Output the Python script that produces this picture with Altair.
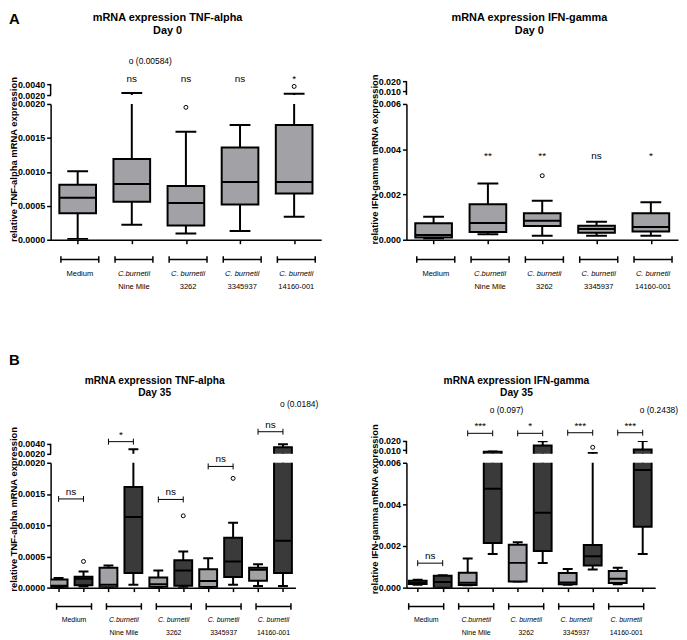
import altair as alt
import pandas as pd

FONT = "Liberation Sans"
LIGHT = "#a2a2a6"
DARK = "#3a3a3a"

# ---------------- data ----------------
LINE1 = ["Medium", "C.burnetii", "C. burnetii", "C. burnetii", "C. burnetii"]
LINE2 = ["", "Nine Mile", "3262", "3345937", "14160-001"]

# A: TNF-alpha, day 0 (one box per group)
tnf0_min = [0.00001, 0.00022, 0.000093, 0.00013, 0.00034]
tnf0_q1 = [0.00039, 0.00056, 0.00021, 0.00052, 0.00068]
tnf0_med = [0.00062, 0.00082, 0.00054, 0.00085, 0.00085]
tnf0_q3 = [0.00081, 0.00119, 0.00079, 0.00136, 0.00169]
tnf0_max = [0.00101, 0.00236, 0.00159, 0.00169, 0.00224]
tnf0_out_box = [2, 4]
tnf0_out_val = [0.00195, 0.00358]
tnf0_far_box = [1]
tnf0_far_val = [0.00584]
tnf0_sig = ["", "ns", "ns", "ns", "*"]

# A: IFN-gamma, day 0
ifn0_min = [0.00006, 0.00024, 0.00018, 0.00018, 0.00018]
ifn0_q1 = [0.00010, 0.00034, 0.00061, 0.00031, 0.00036]
ifn0_med = [0.00021, 0.00074, 0.00084, 0.00047, 0.00056]
ifn0_q3 = [0.00073, 0.00157, 0.00117, 0.00062, 0.00117]
ifn0_max = [0.00102, 0.00249, 0.00172, 0.00080, 0.00166]
ifn0_out_box = [2]
ifn0_out_val = [0.00283]
ifn0_far_box = []
ifn0_far_val = []
ifn0_sig = ["", "**", "**", "ns", "*"]

# B: day 35, two boxes per group (light, dark)
SHADE_A = ["light"] * 5
SHADE_B = ["light", "dark"] * 5

tnf35_min = [0.0, 0.00002, 0.0, 0.000048, 0.0, 0.000005, 0.0, 0.000048, 0.000027, 0.000027]
tnf35_q1 = [0.00001, 0.000037, 0.000005, 0.000233, 0.00001, 0.000032, 0.00001, 0.00017, 0.00011, 0.000233]
tnf35_med = [0.00003, 0.000143, 0.000048, 0.00113, 0.000053, 0.000275, 0.000106, 0.00042, 0.000286, 0.00075]
tnf35_q3 = [0.00013, 0.000175, 0.000317, 0.00161, 0.000164, 0.00044, 0.000296, 0.0008, 0.000317, 0.00334]
tnf35_max = [0.000153, 0.00026, 0.000354, 0.00294, 0.000275, 0.000577, 0.00047, 0.00104, 0.000376, 0.00394]
tnf35_out_box = [1, 5, 7]
tnf35_out_val = [0.00042, 0.00115, 0.00175]
tnf35_far_box = [9]
tnf35_far_val = [0.0184]
tnf35_sig = ["ns", "*", "ns", "ns", "ns"]

ifn35_min = [0.00014, 0.0, 0.00011, 0.00162, 0.00029, 0.00118, 0.00014, 0.00087, 0.00016, 0.00162]
ifn35_q1 = [0.00018, 0.0, 0.00013, 0.00214, 0.00030, 0.00176, 0.00016, 0.00106, 0.00022, 0.00292]
ifn35_med = [0.00025, 0.00027, 0.00024, 0.00475, 0.00119, 0.0036, 0.00025, 0.00151, 0.00043, 0.00565]
ifn35_q3 = [0.00033, 0.00057, 0.00071, 0.0082, 0.00206, 0.015, 0.00070, 0.00205, 0.00080, 0.0108]
ifn35_max = [0.00038, 0.00060, 0.0014, 0.0086, 0.00218, 0.0197, 0.00090, 0.0070, 0.00095, 0.0199]
ifn35_out_box = [7]
ifn35_out_val = [0.0131]
ifn35_far_box = [3, 9]
ifn35_far_val = [0.097, 0.2438]
ifn35_sig = ["ns", "***", "*", "***", "***"]

# ---------------- layout (pixels) ----------------
CFG = {
    "A_tnf": dict(width=273, xdom=[-0.5, 4.5], up_h=14, low_h=137,
                  up_dom=[0.002, 0.004545], up_ticks=[0.002, 0.004], low_dom=[0.0, 0.002],
                  low_ticks=[0, 0.0005, 0.001, 0.0015, 0.002], fmt=".4f", box=37, cap=21,
                  title=("mRNA expression TNF-alpha", "Day 0"), title_x=118, title_y=(-64, -51), title_size=11,
                  ytitle="relative TNF-alpha mRNA expression", ytitle_x=-37, ytitle_y=56,
                  far_y=-17, sig_y=[1], paired=False, grp_half=0.35, grp_shift=0.04,
                  grp_y=157, lab_y=(172, 185), lab_size=7.6, letter="A", letter_y=-62.5),
    "A_ifn": dict(width=274, xdom=[-0.5, 4.5], up_h=14, low_h=137,
                  up_dom=[0.006, 0.020], up_ticks=[0.010, 0.020], low_dom=[0.0, 0.006],
                  low_ticks=[0, 0.002, 0.004, 0.006], fmt=".3f", box=37, cap=21,
                  title=("mRNA expression IFN-gamma", "Day 0"), title_x=124, title_y=(-64, -51), title_size=11,
                  ytitle="relative IFN-gamma mRNA expression", ytitle_x=-32, ytitle_y=56,
                  far_y=-17, sig_y=[79], paired=False, grp_half=0.35, grp_shift=0.04,
                  grp_y=157, lab_y=(172, 185), lab_size=7.6, letter=None),
    "B_tnf": dict(width=247, xdom=[-0.32, 9.5], up_h=13, low_h=126,
                  up_dom=[0.002, 0.0046], up_ticks=[0.002, 0.004], low_dom=[0.0, 0.002],
                  low_ticks=[0, 0.0005, 0.001, 0.0015, 0.002], fmt=".4f", box=18, cap=10,
                  title=("mRNA expression TNF-alpha", "Day 35"), title_x=105, title_y=(-60, -48), title_size=10.3,
                  ytitle="relative TNF-alpha mRNA expression", ytitle_x=-37, ytitle_y=47,
                  far_y=-34.5, sig_y=[58.5, 0.7, 59, 25.7, -9.3], paired=True, grp_half=0.7, grp_shift=0.12,
                  grp_y=145, lab_y=(159, 172), lab_size=7, letter="B", letter_y=-82),
    "B_ifn": dict(width=251, xdom=[-0.45, 9.5], up_h=13, low_h=126,
                  up_dom=[0.006, 0.020], up_ticks=[0.010, 0.020], low_dom=[0.0, 0.006],
                  low_ticks=[0, 0.002, 0.004, 0.006], fmt=".3f", box=18, cap=10,
                  title=("mRNA expression IFN-gamma", "Day 35"), title_x=111, title_y=(-60, -48), title_size=10.3,
                  ytitle="relative IFN-gamma mRNA expression", ytitle_x=-32, ytitle_y=47,
                  far_y=-28.5, sig_y=[123.3, -7.7, -7.7, -8.3, -8.3], paired=True, grp_half=0.7, grp_shift=-0.16,
                  grp_y=145, lab_y=(159, 172), lab_size=7, letter=None),
}


def stats_frame(mins, q1, med, q3, mx, shades):
    return pd.DataFrame({"pos": list(range(len(mins))), "lo": mins, "q1": q1, "med": med,
                         "q3": q3, "hi": mx, "shade": shades})


def xenc(field, cfg, axis):
    return alt.X(field, type="quantitative",
                 scale=alt.Scale(domain=cfg["xdom"], nice=False, zero=False, padding=0),
                 axis=axis, title=None)


def yenc(field, dom, axis):
    return alt.Y(field, type="quantitative", scale=alt.Scale(domain=dom, nice=False, zero=False, padding=0),
                 axis=axis, title=None)


def txt(text, x, y, **kw):
    return alt.Chart(pd.DataFrame({"t": [text]})).mark_text(font=FONT, color="black", **kw).encode(
        x=alt.value(x), y=alt.value(y), text="t:N")


def box_layers(df, odf, cfg, dom, xaxis, yaxis, seg):
    X = lambda f: xenc(f, cfg, xaxis)
    Y = lambda f: yenc(f, dom, yaxis)

    def inside(field):
        # keep a point-like mark only in the segment that shows its value
        if seg == "up":
            return f"datum.{field} > {dom[0]}"
        return f"datum.{field} <= {dom[1]}"

    base = alt.Chart(df)
    layers = [
        base.mark_rule(clip=True, color="black", strokeWidth=2).encode(x=X("pos"), y=Y("lo"), y2=alt.Y2("hi")),
        base.transform_filter(inside("hi")).mark_tick(clip=True, orient="horizontal", color="black",
                                                      size=cfg["cap"], thickness=2, opacity=1).encode(
            x=X("pos"), y=Y("hi")),
        base.transform_filter(inside("lo")).mark_tick(clip=True, orient="horizontal", color="black",
                                                      size=cfg["cap"], thickness=2, opacity=1).encode(
            x=X("pos"), y=Y("lo")),
        base.mark_bar(clip=True, size=cfg["box"], stroke="black", strokeWidth=2, opacity=1).encode(
            x=X("pos"), y=Y("q1"), y2=alt.Y2("q3"),
            fill=alt.Fill("shade:N", scale=alt.Scale(domain=["light", "dark"], range=[LIGHT, DARK]), legend=None)),
        base.transform_filter(inside("med")).mark_tick(clip=True, orient="horizontal", color="black",
                                                       size=cfg["box"], thickness=2, opacity=1).encode(
            x=X("pos"), y=Y("med")),
    ]
    if len(odf):
        layers.append(alt.Chart(odf).transform_filter(inside("val")).mark_point(
            clip=True, shape="circle", filled=False, color="black", size=16, strokeWidth=1, opacity=1).encode(
            x=X("pos"), y=Y("val")))
    return layers


def panel(df, odf, fdf, sig, cfg, anchor=False):
    n = len(df)
    # ---------- upper (broken) segment ----------
    yax_up = alt.Axis(values=cfg["up_ticks"], format=cfg["fmt"], domain=False, grid=False, tickSize=4,
                      tickColor="black", tickWidth=1.5, labelFont=FONT, labelFontSize=9, labelFontWeight="bold",
                      labelColor="black", labelPadding=2, labelFlush=False, labelOverlap=False)
    X = lambda f: xenc(f, cfg, None)
    up = box_layers(df, odf, cfg, cfg["up_dom"], None, yax_up, "up")
    up.append(alt.Chart(pd.DataFrame({"a": [cfg["up_dom"][0]], "b": [cfg["up_ticks"][1]]})).mark_rule(
        color="black", strokeWidth=1.5).encode(x=alt.value(0), y=yenc("a", cfg["up_dom"], yax_up), y2=alt.Y2("b")))
    # titles
    up.append(txt(cfg["title"][0], cfg["title_x"], cfg["title_y"][0], fontSize=cfg["title_size"],
                  fontWeight="bold", align="center", baseline="middle"))
    up.append(txt(cfg["title"][1], cfg["title_x"], cfg["title_y"][1], fontSize=cfg["title_size"],
                  fontWeight="bold", align="center", baseline="middle"))
    if cfg["letter"]:
        up.append(txt(cfg["letter"], -42, cfg["letter_y"], fontSize=15, fontWeight="bold", align="left",
                      baseline="middle"))
    if anchor:
        up.append(alt.Chart(pd.DataFrame({"a": [0]})).mark_point(opacity=0, size=1, strokeWidth=0).encode(
            x=alt.value(-42), y=alt.value(-70)))
    # far-off outliers written as text
    if len(fdf):
        up.append(alt.Chart(fdf).mark_text(font=FONT, fontSize=8.5, color="black", align="left", dx=-3,
                                           baseline="alphabetic").encode(
            x=X("pos"), y=alt.value(cfg["far_y"]), text="lab:N"))
    # significance
    if not cfg["paired"]:
        sdf = pd.DataFrame({"pos": list(range(n)), "lab": sig})
        sdf = sdf[sdf["lab"] != ""]
        up.append(alt.Chart(sdf).mark_text(font=FONT, fontSize=10, color="black", align="center",
                                           baseline="alphabetic").encode(
            x=X("pos"), y=alt.value(cfg["sig_y"][0]), text="lab:N"))
    else:
        for g, lab in enumerate(sig):
            yb = cfg["sig_y"][g]
            bdf = pd.DataFrame({"x1": [2 * g], "x2": [2 * g + 1], "xm": [2 * g + 0.5], "lab": [lab]})
            c = alt.Chart(bdf)
            up.append(c.mark_rule(color="black", strokeWidth=1).encode(x=X("x1"), x2=alt.X2("x2"),
                                                                        y=alt.value(yb)))
            up.append(c.mark_rule(color="black", strokeWidth=1).encode(x=X("x1"), y=alt.value(yb - 3),
                                                                        y2=alt.value(yb + 3)))
            up.append(c.mark_rule(color="black", strokeWidth=1).encode(x=X("x2"), y=alt.value(yb - 3),
                                                                        y2=alt.value(yb + 3)))
            up.append(c.mark_text(font=FONT, fontSize=10, color="black", align="center", baseline="alphabetic",
                                  dy=-4).encode(x=X("xm"), y=alt.value(yb), text="lab:N"))
    upper = alt.layer(*up).properties(width=cfg["width"], height=cfg["up_h"])

    # ---------- lower segment ----------
    xax = alt.Axis(values=list(range(n)), labels=False, ticks=True, tickSize=4, tickColor="black", tickWidth=1.5,
                   domain=True, domainColor="black", domainWidth=1.5, grid=False)
    yax = alt.Axis(values=cfg["low_ticks"], format=cfg["fmt"], domain=True, domainColor="black", domainWidth=1.5,
                   grid=False, tickSize=4, tickColor="black", tickWidth=1.5, labelFont=FONT, labelFontSize=9,
                   labelFontWeight="bold", labelColor="black", labelPadding=2, labelFlush=False, labelOverlap=False)
    lo = box_layers(df, odf, cfg, cfg["low_dom"], xax, yax, "low")
    XL = lambda f: xenc(f, cfg, xax)
    step = 2 if cfg["paired"] else 1
    centers = [g * step + (0.5 if cfg["paired"] else 0) + cfg["grp_shift"] for g in range(5)]
    gdf = pd.DataFrame({"gl": [c - cfg["grp_half"] for c in centers], "gr": [c + cfg["grp_half"] for c in centers],
                        "gc": centers, "l1": LINE1, "l2": LINE2})
    gc = alt.Chart(gdf)
    gy = cfg["grp_y"]
    lo.append(gc.mark_rule(color="black", strokeWidth=1.5).encode(x=XL("gl"), x2=alt.X2("gr"), y=alt.value(gy)))
    lo.append(gc.mark_rule(color="black", strokeWidth=1.5).encode(x=XL("gl"), y=alt.value(gy - 3.3),
                                                                   y2=alt.value(gy + 3.3)))
    lo.append(gc.mark_rule(color="black", strokeWidth=1.5).encode(x=XL("gr"), y=alt.value(gy - 3.3),
                                                                   y2=alt.value(gy + 3.3)))
    lo.append(gc.transform_filter(alt.datum.l1 == "Medium").mark_text(
        font=FONT, fontSize=cfg["lab_size"], color="black", baseline="middle").encode(
        x=XL("gc"), y=alt.value(cfg["lab_y"][0]), text="l1:N"))
    lo.append(gc.transform_filter(alt.datum.l1 != "Medium").mark_text(
        font=FONT, fontSize=cfg["lab_size"], color="black", baseline="middle", fontStyle="italic").encode(
        x=XL("gc"), y=alt.value(cfg["lab_y"][0]), text="l1:N"))
    lo.append(gc.mark_text(font=FONT, fontSize=cfg["lab_size"], color="black", baseline="middle").encode(
        x=XL("gc"), y=alt.value(cfg["lab_y"][1]), text="l2:N"))
    lo.append(txt(cfg["ytitle"], cfg["ytitle_x"], cfg["ytitle_y"], fontSize=9.5, fontWeight="bold", angle=270,
                  align="center", baseline="middle"))
    lower = alt.layer(*lo).properties(width=cfg["width"], height=cfg["low_h"])
    return upper, lower


def pts(boxes, vals):
    return pd.DataFrame({"pos": boxes, "val": vals})


def far(boxes, vals):
    return pd.DataFrame({"pos": boxes, "lab": ["o (" + str(v) + ")" for v in vals]})


aL_up, aL_low = panel(stats_frame(tnf0_min, tnf0_q1, tnf0_med, tnf0_q3, tnf0_max, SHADE_A),
                      pts(tnf0_out_box, tnf0_out_val), far(tnf0_far_box, tnf0_far_val), tnf0_sig,
                      CFG["A_tnf"], anchor=True)
aR_up, aR_low = panel(stats_frame(ifn0_min, ifn0_q1, ifn0_med, ifn0_q3, ifn0_max, SHADE_A),
                      pts(ifn0_out_box, ifn0_out_val), far(ifn0_far_box, ifn0_far_val), ifn0_sig,
                      CFG["A_ifn"])
bL_up, bL_low = panel(stats_frame(tnf35_min, tnf35_q1, tnf35_med, tnf35_q3, tnf35_max, SHADE_B),
                      pts(tnf35_out_box, tnf35_out_val), far(tnf35_far_box, tnf35_far_val), tnf35_sig,
                      CFG["B_tnf"])
bR_up, bR_low = panel(stats_frame(ifn35_min, ifn35_q1, ifn35_med, ifn35_q3, ifn35_max, SHADE_B),
                      pts(ifn35_out_box, ifn35_out_val), far(ifn35_far_box, ifn35_far_val), ifn35_sig,
                      CFG["B_ifn"])


def spacer():
    return alt.Chart(pd.DataFrame({"a": [0]})).mark_point(opacity=0, size=1, strokeWidth=0).encode(
        x=alt.value(0), y=alt.value(0)).properties(width=10, height=185)


chart = alt.concat(aL_up, aR_up, aL_low, aR_low, spacer(), spacer(), bL_up, bR_up, bL_low, bR_low,
                   columns=2, spacing={"row": 9, "column": 86}, bounds="flush", align="each").properties(
    padding=0, background="white").configure(font=FONT).configure_view(strokeWidth=0)

chart.save("out.html", embed_options={"renderer": "svg", "actions": False})
